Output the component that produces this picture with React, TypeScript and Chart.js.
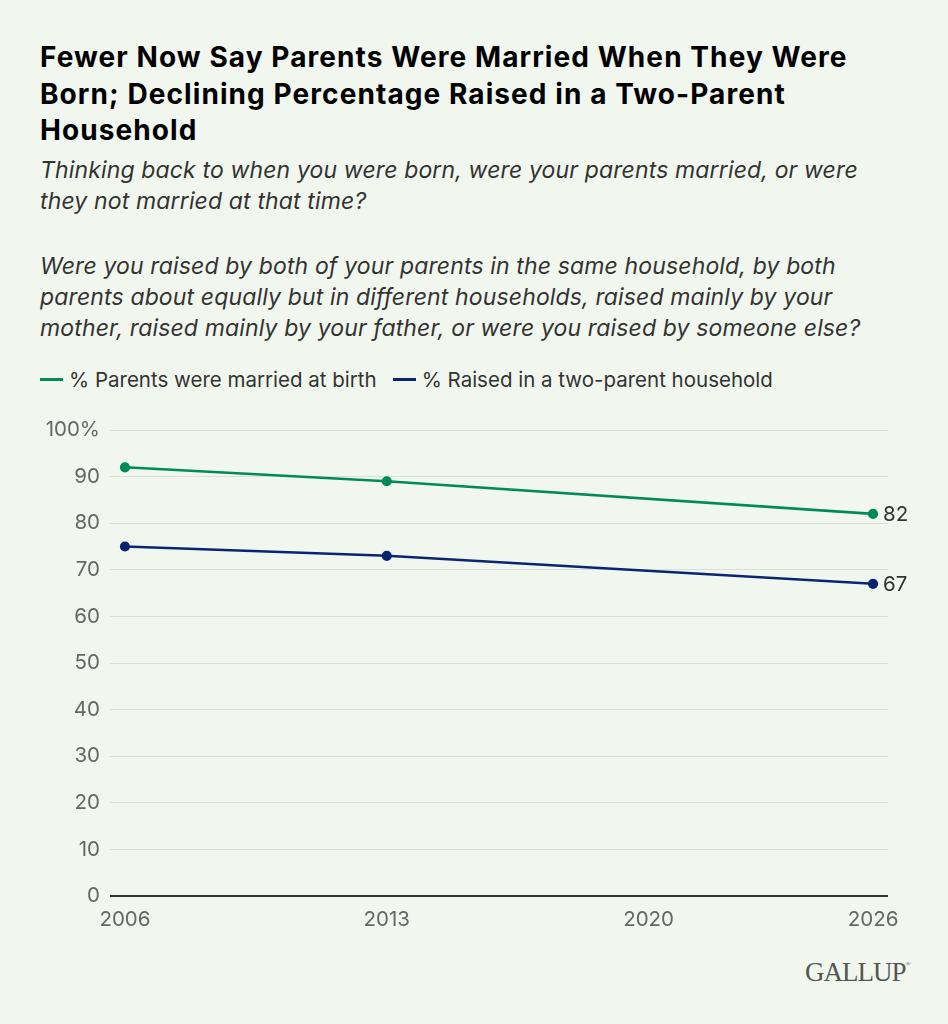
import React, { useRef, useEffect } from "react";
import { Chart, registerables } from "chart.js";

Chart.register(...registerables);

// Survey years and results (%)
const years = [2006, 2013, 2026];
const marriedAtBirth = [92, 89, 82];
const twoParentHousehold = [75, 73, 67];
const xTicks = [2006, 2013, 2020, 2026];
const yTicks = [0, 10, 20, 30, 40, 50, 60, 70, 80, 90, 100];

const titleLines = [
  "Fewer Now Say Parents Were Married When They Were",
  "Born; Declining Percentage Raised in a Two-Parent",
  "Household",
];
const question1 = [
  "Thinking back to when you were born, were your parents married, or were",
  "they not married at that time?",
];
const question2 = [
  "Were you raised by both of your parents in the same household, by both",
  "parents about equally but in different households, raised mainly by your",
  "mother, raised mainly by your father, or were you raised by someone else?",
];

const GREEN = "#008a5b";
const NAVY = "#0b2471";
const FONT = "Inter, 'Noto Sans', sans-serif";

// Writes the last value next to the final point of each line
const endLabels = {
  id: "endLabels",
  afterDatasetsDraw(chart: any) {
    const { ctx } = chart;
    ctx.save();
    ctx.font = `20.5px ${FONT}`;
    ctx.fillStyle = "#333333";
    ctx.textAlign = "left";
    ctx.textBaseline = "middle";
    chart.data.datasets.forEach((ds: any, i: number) => {
      const meta = chart.getDatasetMeta(i);
      const last = meta.data[meta.data.length - 1];
      const v = ds.data[ds.data.length - 1];
      ctx.fillText(String(v.y), last.x + 10, last.y + 1);
    });
    ctx.restore();
  },
};

const LegendItem: React.FC<{ color: string; label: string }> = ({ color, label }) => (
  <span style={{ display: "inline-flex", alignItems: "center", marginRight: 16 }}>
    <span style={{ width: 23, height: 3, background: color, marginRight: 6, display: "inline-block" }} />
    {label}
  </span>
);

export default function App() {
  const canvasRef = useRef<HTMLCanvasElement>(null);

  useEffect(() => {
    document.body.style.margin = "0";
    if (!canvasRef.current) return;
    const chart = new Chart(canvasRef.current, {
      type: "line",
      data: {
        datasets: [
          {
            label: "% Parents were married at birth",
            data: years.map((y, i) => ({ x: y, y: marriedAtBirth[i] })),
            borderColor: GREEN,
            backgroundColor: GREEN,
            borderWidth: 2.6,
            pointRadius: 3.8,
            pointHoverRadius: 3.8,
          },
          {
            label: "% Raised in a two-parent household",
            data: years.map((y, i) => ({ x: y, y: twoParentHousehold[i] })),
            borderColor: NAVY,
            backgroundColor: NAVY,
            borderWidth: 2.6,
            pointRadius: 3.8,
            pointHoverRadius: 3.8,
          },
        ],
      },
      options: {
        animation: false,
        responsive: false,
        maintainAspectRatio: false,
        layout: { padding: { top: 30, right: 60, left: 0, bottom: 0 } },
        plugins: { legend: { display: false }, tooltip: { enabled: false } },
        scales: {
          x: {
            type: "linear",
            min: 2005.6,
            max: 2026.4,
            afterBuildTicks: (axis: any) => {
              axis.ticks = xTicks.map((v) => ({ value: v }));
            },
            afterFit: (axis: any) => {
              axis.height = 44;
            },
            grid: { display: false },
            border: { display: false },
            ticks: {
              color: "#666666",
              font: { family: FONT, size: 20.5 },
              padding: 4,
              maxRotation: 0,
              autoSkip: false,
              callback: (v: any) => String(v),
            },
          },
          y: {
            min: 0,
            max: 100,
            afterBuildTicks: (axis: any) => {
              axis.ticks = yTicks.map((v) => ({ value: v }));
            },
            afterFit: (axis: any) => {
              axis.width = 110;
            },
            grid: {
              drawTicks: false,
              color: (c: any) => (c.tick && c.tick.value === 0 ? "#333333" : "#dcdfd9"),
              lineWidth: (c: any) => (c.tick && c.tick.value === 0 ? 2 : 1),
            },
            border: { display: false },
            ticks: {
              color: "#666666",
              font: { family: FONT, size: 20.5 },
              padding: 10,
              callback: (v: any) => (v === 100 ? "100%" : String(v)),
            },
          },
        },
      },
      plugins: [endLabels],
    } as any);
    return () => chart.destroy();
  }, []);

  return (
    <div
      style={{
        position: "relative",
        width: 948,
        height: 1024,
        background: "#f1f7ef",
        fontFamily: FONT,
        overflow: "hidden",
      }}
    >
      <div style={{ position: "absolute", left: 40, top: 39, whiteSpace: "nowrap" }}>
        <div style={{ fontSize: 28, fontWeight: 700, lineHeight: "36.5px", color: "#000", letterSpacing: 1.08 }}>
          {titleLines.map((l) => (
            <div key={l}>{l}</div>
          ))}
        </div>
        <div
          style={{ fontSize: 23, fontStyle: "italic", lineHeight: "31px", color: "#333", marginTop: 6, letterSpacing: 0.14 }}
        >
          {question1.map((l) => (
            <div key={l}>{l}</div>
          ))}
        </div>
        <div
          style={{ fontSize: 23, fontStyle: "italic", lineHeight: "31px", color: "#333", marginTop: 34, letterSpacing: 0.14 }}
        >
          {question2.map((l) => (
            <div key={l}>{l}</div>
          ))}
        </div>
      </div>
      <div
        style={{ position: "absolute", left: 40, top: 361, fontSize: 20.5, lineHeight: "26px", color: "#333", whiteSpace: "nowrap" }}
      >
        <LegendItem color={GREEN} label="% Parents were married at birth" />
        <LegendItem color={NAVY} label="% Raised in a two-parent household" />
      </div>
      <canvas
        ref={canvasRef}
        width={948}
        height={540}
        style={{ position: "absolute", left: 0, top: 400, width: 948, height: 540 }}
      />
      <div
        style={{
          position: "absolute",
          left: 805,
          top: 952,
          fontFamily: "'Liberation Serif', serif",
          fontSize: 27,
          lineHeight: "40px",
          color: "#555",
          letterSpacing: -1,
        }}
      >
        GALLUP<span style={{ fontSize: 7, verticalAlign: "top", lineHeight: "24px" }}>®</span>
      </div>
    </div>
  );
}
